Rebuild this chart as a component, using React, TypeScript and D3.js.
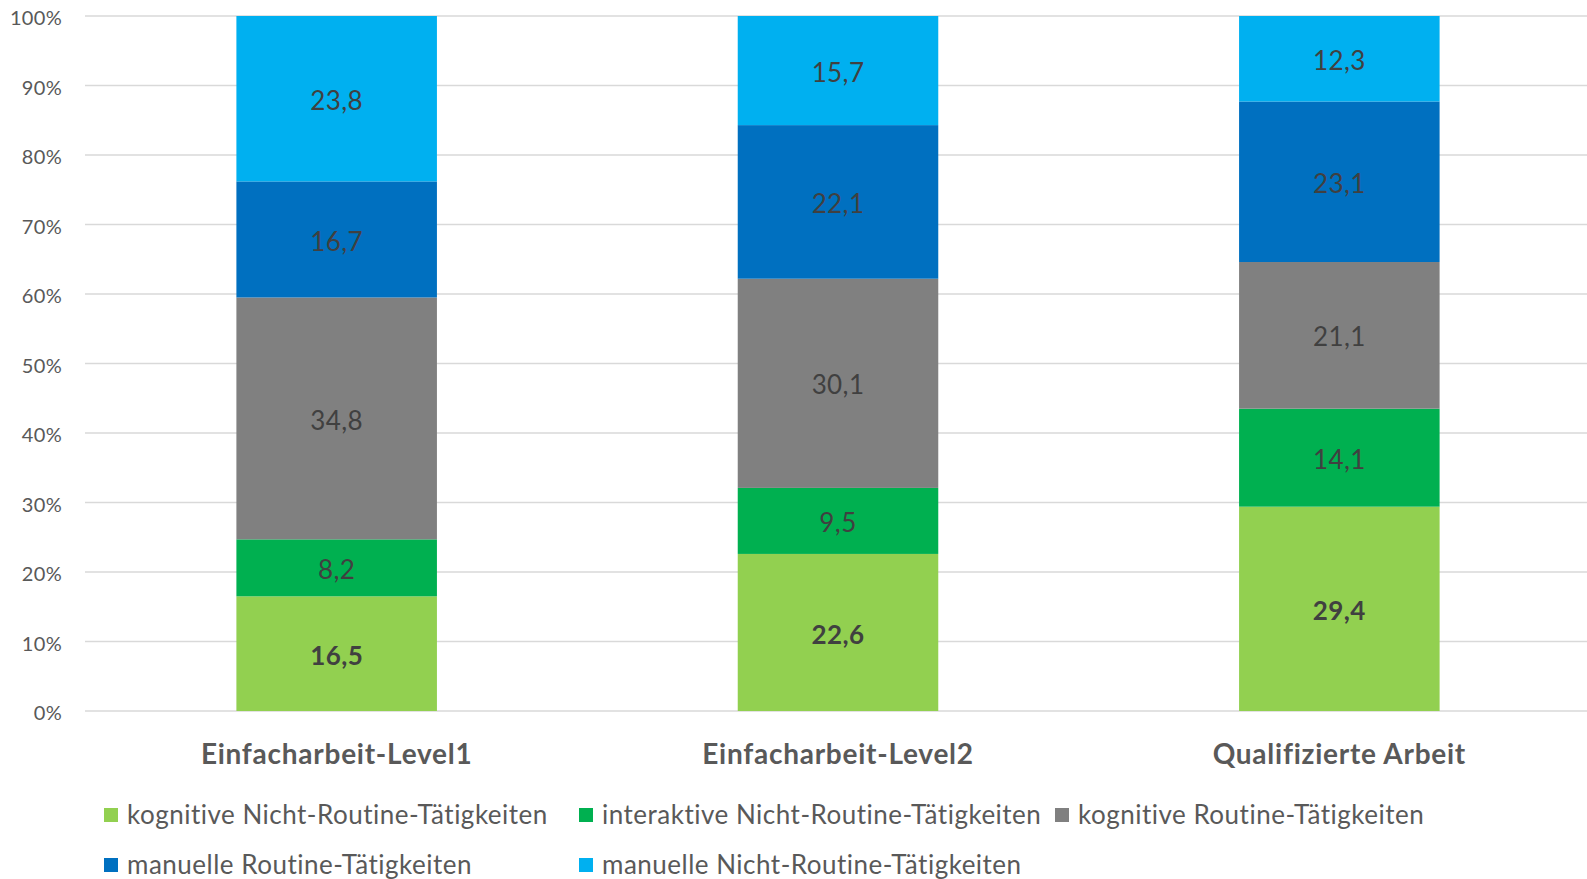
import React from "react";
import * as d3 from "d3";

const categories = ["Einfacharbeit-Level1", "Einfacharbeit-Level2", "Qualifizierte Arbeit"];
const seriesNames = [
  "kognitive Nicht-Routine-Tätigkeiten",
  "interaktive Nicht-Routine-Tätigkeiten",
  "kognitive Routine-Tätigkeiten",
  "manuelle Routine-Tätigkeiten",
  "manuelle Nicht-Routine-Tätigkeiten",
];
const kognitivNR = [16.5, 22.6, 29.4];
const interaktivNR = [8.2, 9.5, 14.1];
const kognitivR = [34.8, 30.1, 21.1];
const manuellR = [16.7, 22.1, 23.1];
const manuellNR = [23.8, 15.7, 12.3];
const seriesValues = [kognitivNR, interaktivNR, kognitivR, manuellR, manuellNR];
const colors = ["#92D050", "#00B050", "#808080", "#0070C0", "#00B0F0"];
const boldLabel = [true, false, false, false, false];
const yTicks = [0, 10, 20, 30, 40, 50, 60, 70, 80, 90, 100];

const W = 1587;
const H = 879;
const font = "Lato, 'Open Sans', sans-serif";

export default function App() {
  const x = d3.scaleBand<string>().domain(categories).range([86, 1590]).paddingInner(0.6).paddingOuter(0.3);
  const y = d3.scaleLinear().domain([0, 100]).range([711, 16]);

  const table = categories.map((c, i) => {
    const row: any = { cat: c };
    seriesNames.forEach((s, j) => (row[s] = seriesValues[j][i]));
    return row;
  });
  const stacked = d3.stack<any>().keys(seriesNames)(table);

  // legend layout: [x of swatch, y center] per series
  const legendPos: [number, number][] = [
    [104, 815],
    [579, 815],
    [1055, 815],
    [104, 865],
    [579, 865],
  ];

  return (
    <svg width={W} height={H} style={{ position: "absolute", left: 0, top: 0 }} fontFamily={font}>
      <rect width={W} height={H} fill="#fff" />
      {yTicks.map((t) => (
        <g key={t}>
          <line x1={85} x2={1587} y1={y(t)} y2={y(t)} stroke="#D9D9D9" strokeWidth={1.5} />
          <text x={62} y={y(t) + 2} dy="0.35em" textAnchor="end" fontSize={20} fill="#595959" letterSpacing={0.3}>
            {t}%
          </text>
        </g>
      ))}
      {stacked.map((layer, j) => (
        <g key={layer.key}>
          {layer.map((d, i) => {
            const x0 = x(categories[i])!;
            const bw = x.bandwidth();
            const top = y(d[1]);
            const bot = y(d[0]);
            return (
              <g key={i}>
                <rect x={x0} y={top} width={bw} height={bot - top} fill={colors[j]} />
                <text
                  x={x0 + bw / 2}
                  y={(top + bot) / 2 + 2}
                  dy="0.35em"
                  textAnchor="middle"
                  fontSize={26}
                  letterSpacing={0.4}
                  fontWeight={boldLabel[j] ? "bold" : "normal"}
                  fill="#404040"
                >
                  {d3.format(".1f")(seriesValues[j][i]).replace(".", ",")}
                </text>
              </g>
            );
          })}
        </g>
      ))}
      {categories.map((c) => (
        <text
          key={c}
          x={x(c)! + x.bandwidth() / 2}
          y={754}
          dy="0.35em"
          textAnchor="middle"
          fontSize={28}
          letterSpacing={0.75}
          fontWeight="bold"
          fill="#595959"
        >
          {c}
        </text>
      ))}
      {seriesNames.map((s, j) => {
        const [lx, ly] = legendPos[j];
        return (
          <g key={s}>
            <rect x={lx} y={ly - 7} width={14} height={14} fill={colors[j]} />
            <text x={lx + 23} y={ly} dy="0.35em" fontSize={26} letterSpacing={0.5} fill="#595959">
              {s}
            </text>
          </g>
        );
      })}
    </svg>
  );
}
